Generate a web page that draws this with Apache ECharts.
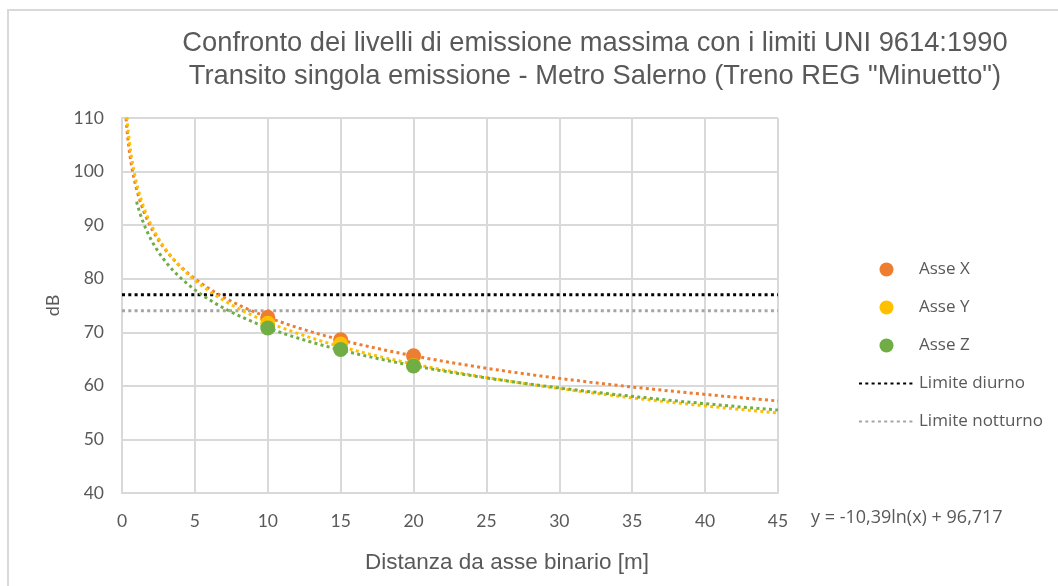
<!DOCTYPE html>
<html>
<head>
<meta charset="utf-8">
<script src="https://cdn.jsdelivr.net/npm/echarts@6/dist/echarts.min.js"></script>
<style>
  html, body { margin: 0; padding: 0; background: #ffffff; }
  #chart { width: 1058px; height: 586px; }
</style>
</head>
<body>
<div id="chart"></div>
<script>
// Distances from the track axis (m) where the maximum levels were measured
const distances = [10, 15, 20];
// Maximum emission levels (dB) per measurement axis
const asseX = [72.8, 68.6, 65.6];
const asseY = [71.7, 67.8, 63.8];
const asseZ = [70.8, 66.8, 63.7];
// UNI 9614:1990 limits (dB)
const limiteDiurno = 77;
const limiteNotturno = 74;
// Range covered by each logarithmic trendline [from, to] (m)
const trendRangeX = [0.2, 45];
const trendRangeY = [0.2, 45];
const trendRangeZ = [1, 45];
// Axis ticks
const xTicks = [0, 5, 10, 15, 20, 25, 30, 35, 40, 45];
const yTicks = [40, 50, 60, 70, 80, 90, 100, 110];
const equationLabel = 'y = -10,39ln(x) + 96,717';

const COL_X = '#ED7D31', COL_Y = '#FFC000', COL_Z = '#70AD47';
const TXT = '#595959', GRID = '#D9D9D9';

// Least-squares fit of y = a*ln(x) + b
function logFit(xs, ys) {
  const lx = xs.map(Math.log);
  const n = xs.length;
  const mx = lx.reduce((s, v) => s + v, 0) / n;
  const my = ys.reduce((s, v) => s + v, 0) / n;
  let sxy = 0, sxx = 0;
  for (let i = 0; i < n; i++) { sxy += (lx[i] - mx) * (ys[i] - my); sxx += (lx[i] - mx) ** 2; }
  const a = sxy / sxx;
  return { a, b: my - a * mx };
}
// Sample the fitted curve densely (geometric steps near the origin)
function trendCurve(xs, ys, range) {
  const f = logFit(xs, ys);
  const pts = [];
  const steps = 240;
  const r = range[1] / range[0];
  for (let i = 0; i <= steps; i++) {
    const x = range[0] * Math.pow(r, i / steps);
    pts.push([x, f.a * Math.log(x) + f.b]);
  }
  return pts;
}
const pairs = ys => distances.map((d, i) => [d, ys[i]]);

const dotted = (color) => ({ color, width: 3, type: [3, 3.3], cap: 'butt' });

const chart = echarts.init(document.getElementById('chart'), null, { renderer: 'canvas' });
chart.setOption({
  backgroundColor: '#ffffff',
  animation: false,
  title: {
    text: 'Confronto dei livelli di emissione massima con i limiti UNI 9614:1990\nTransito singola emissione - Metro Salerno (Treno REG "Minuetto")',
    left: 590, top: 22, textAlign: 'center',
    textStyle: { fontFamily: 'Liberation Sans', fontWeight: 'normal', fontSize: 27.3, lineHeight: 33, color: TXT }
  },
  legend: {
    orient: 'vertical', left: 853, top: 256,
    itemWidth: 55, itemHeight: 14, itemGap: 21,
    data: [
      { name: 'Asse X' }, { name: 'Asse Y' }, { name: 'Asse Z' },
      // dotted line only, no marker
      { name: 'Limite diurno', itemStyle: { opacity: 0 } },
      { name: 'Limite notturno', itemStyle: { opacity: 0 } }
    ],
    textStyle: { fontFamily: 'Open Sans', fontSize: 17, color: TXT, padding: [0, 0, 0, 0] }
  },
  grid: { left: 122, right: 280, top: 118, bottom: 93 },
  xAxis: {
    type: 'value', min: xTicks[0], max: xTicks[xTicks.length - 1], interval: 5,
    name: 'Distanza da asse binario [m]', nameLocation: 'middle', nameGap: 58,
    nameTextStyle: { fontFamily: 'Liberation Sans', fontSize: 22.5, color: TXT, padding: [0, 0, 0, 114] },
    axisLine: { lineStyle: { color: GRID, width: 2 } },
    axisTick: { show: false },
    axisLabel: { fontFamily: 'Lato', fontSize: 17.5, color: TXT, margin: 19 },
    splitLine: { lineStyle: { color: GRID, width: 2 } }
  },
  yAxis: {
    type: 'value', min: yTicks[0], max: yTicks[yTicks.length - 1], interval: 10,
    name: 'dB', nameLocation: 'middle', nameGap: 48,
    nameTextStyle: { fontFamily: 'Lato', fontSize: 18, color: TXT },
    axisLine: { show: true, lineStyle: { color: GRID, width: 2 } },
    axisTick: { show: false },
    axisLabel: { fontFamily: 'Lato', fontSize: 17.5, color: TXT, margin: 18 },
    splitLine: { lineStyle: { color: GRID, width: 2 } }
  },
  graphic: [
    { type: 'rect', shape: { x: 8, y: 10, width: 1200, height: 800 }, style: { fill: null, stroke: GRID, lineWidth: 2 }, z: -1 },
    { type: 'text', left: 811, top: 509, style: { text: equationLabel, fontFamily: 'Open Sans', fontSize: 18, fill: TXT } }
  ],
  series: [
    { name: 'Limite diurno', type: 'line', symbol: 'none', data: [[0, limiteDiurno], [45, limiteDiurno]], lineStyle: dotted('#000000'), itemStyle: { color: '#000000' }, z: 1 },
    { name: 'Limite notturno', type: 'line', symbol: 'none', data: [[0, limiteNotturno], [45, limiteNotturno]], lineStyle: dotted('#A5A5A5'), itemStyle: { color: '#A5A5A5' }, z: 1 },
    { name: 'trend X', type: 'line', symbol: 'none', clip: true, data: trendCurve(distances, asseX, trendRangeX), lineStyle: dotted(COL_X), z: 2 },
    { name: 'trend Y', type: 'line', symbol: 'none', clip: true, data: trendCurve(distances, asseY, trendRangeY), lineStyle: dotted(COL_Y), z: 3 },
    { name: 'trend Z', type: 'line', symbol: 'none', clip: true, data: trendCurve(distances, asseZ, trendRangeZ), lineStyle: dotted(COL_Z), z: 4 },
    { name: 'Asse X', type: 'scatter', symbol: 'circle', symbolSize: 15, data: pairs(asseX), itemStyle: { color: COL_X, opacity: 1 }, z: 5 },
    { name: 'Asse Y', type: 'scatter', symbol: 'circle', symbolSize: 15, data: pairs(asseY), itemStyle: { color: COL_Y, opacity: 1 }, z: 6 },
    { name: 'Asse Z', type: 'scatter', symbol: 'circle', symbolSize: 15, data: pairs(asseZ), itemStyle: { color: COL_Z, opacity: 1 }, z: 7 }
  ]
});
</script>
</body>
</html>
